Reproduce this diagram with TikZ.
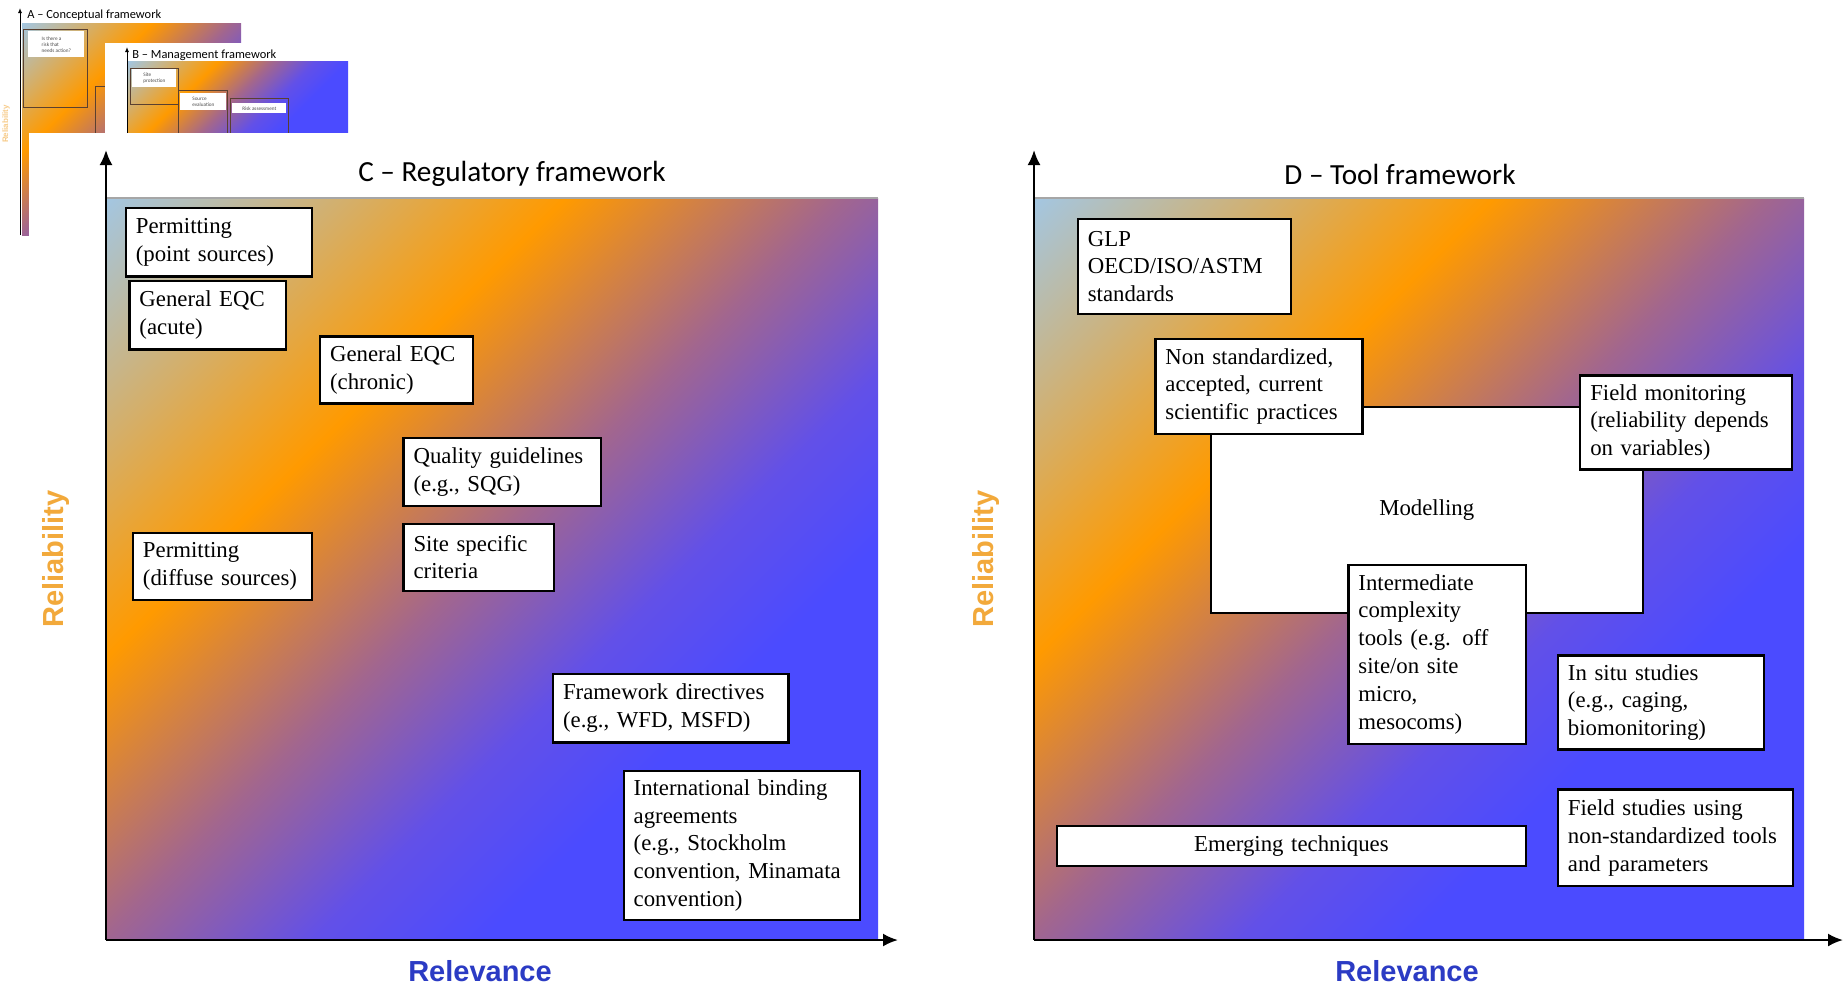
\documentclass[tikz,border=0pt]{standalone}
\usepackage{fontspec}
\setmainfont{Liberation Serif}
\newfontfamily\calib{Carlito}
\newfontfamily\arl{Liberation Sans}
\usetikzlibrary{arrows.meta}
\definecolor{gA}{HTML}{A4C6E0}
\definecolor{gB}{HTML}{FF9A00}
\definecolor{gC}{HTML}{A2668E}
\definecolor{gD}{HTML}{6250E8}
\definecolor{gE}{HTML}{4B4BFF}
\definecolor{relorange}{HTML}{F2A93B}
\definecolor{relblue}{HTML}{2B3BC4}
\definecolor{thumbedge}{HTML}{5A4030}
\pgfdeclarehorizontalshading{diagsh}{100bp}{color(0bp)=(gA); color(14.6bp)=(gA); color(36bp)=(gB); color(49bp)=(gC); color(59bp)=(gD); color(67bp)=(gE); color(100bp)=(gE)}
\tikzset{
  box/.style={draw=black, line width=1.15pt, fill=white, font=\fontsize{11.4}{13.9}\selectfont, align=left, inner xsep=5pt, inner ysep=0pt, anchor=north west},
  panel/.style={shading=diagsh, shading angle=-45},
  axisarrow/.style={line width=1.1pt, -{Latex[length=7.5pt,width=6.5pt]}},
  thinarrow/.style={line width=0.5pt, -{Latex[length=2.5pt,width=2pt]}},
  ptitle/.style={font=\calib\fontsize{14.6}{17}\selectfont},
  relo/.style={font=\arl\bfseries\fontsize{14.5}{17}\selectfont, text=relorange},
  relb/.style={font=\arl\bfseries\fontsize{14.5}{17}\selectfont, text=relblue},
  ttitle/.style={font=\calib\fontsize{6.2}{7}\selectfont, anchor=west, inner sep=0pt},
  tbox/.style={draw=thumbedge, line width=0.6pt, anchor=north west, inner sep=0pt},
  ttext/.style={fill=white, anchor=north west, inner sep=1pt, align=left, font=\calib\fontsize{2.6}{3}\selectfont, text=black!70},
  topline/.style={gray!70, line width=0.9pt},
}
\newcommand\pbox[7][]{%
  \pgfmathsetmacro\bw{(#5-#3)*0.5}%
  \pgfmathsetmacro\bh{(#6-#4)*0.5}%
  \pgfmathsetmacro\tw{\bw-10}%
  \node[box, minimum width=\bw pt, minimum height=\bh pt, text width=\tw pt, #1] (#2) at (#3,#4) {#7};}
\begin{document}
\begin{tikzpicture}[x=0.5pt, y=-0.5pt]
\useasboundingbox (0,0) rectangle (1845,986);
\fill[white] (0,0) rectangle (1845,986);

% ---------- thumbnail A ----------
\shade[panel] (22,23) rectangle (241,235);
\coordinate (a0) at (20,235);
\coordinate (ay) at (20,8);
\draw[thinarrow] (a0) -- (ay);
\node[ttitle] (atitle) at (27,15) {A – Conceptual framework};
\node[tbox, minimum width=32pt, minimum height=39pt] (abox) at (23,29) {};
\node[ttext, minimum width=28pt, minimum height=13pt] (atext) at (28,31) {Is there a\\risk that\\needs action?};
\node[tbox, minimum width=12pt, minimum height=30pt] (abox2) at (95,86) {};
\node[rotate=90, font=\arl\bfseries\fontsize{4}{4}\selectfont, text=relorange!60] (arel) at (6,124) {Reliability};

% ---------- thumbnail B ----------
\fill[white] (105,43) rectangle (370,140);
\shade[panel] (128,61) rectangle (348,140);
\coordinate (b0) at (127,140);
\coordinate (by) at (127,47);
\draw[thinarrow] (b0) -- (by);
\node[ttitle] (btitle) at (132,55) {B – Management framework};
\node[tbox, minimum width=24pt, minimum height=18pt] (bbox1) at (130,68) {};
\node[ttext, minimum width=22pt, minimum height=9pt] (btext1) at (132,69) {Site\\protection};
\node[tbox, minimum width=24.5pt, minimum height=25pt] (bbox2) at (178,90) {};
\node[ttext, minimum width=23pt, minimum height=8.5pt] (btext2) at (180,93) {Source\\evaluation};
\node[tbox, minimum width=29pt, minimum height=21pt] (bbox3) at (230,98) {};
\node[ttext, minimum width=27pt, minimum height=5pt] (btext3) at (232,103) {Risk assessment};

% ---------- white cover ----------
\fill[white] (29,133) rectangle (1845,986);

% ---------- panel C ----------
\shade[panel] (107,198) rectangle (878,939);
\draw[topline] (107,198) -- (878,198);
\coordinate (c0) at (106,940);
\coordinate (cy) at (106,150);
\coordinate (cx) at (898,940);
\draw[axisarrow] (c0) -- (cy);
\draw[axisarrow] (c0) -- (cx);
\node[ptitle] (ctitle) at (512,174) {C – Regulatory framework};
\node[relo, rotate=90] (crel) at (56.5,559) {Reliability};
\node[relb] (crelv) at (480,971) {Relevance};

\pbox{c1}{124.7}{207.1}{310.6}{275.3}{Permitting\\(point sources)}
\pbox{c2}{128.3}{280.1}{284.8}{348.3}{General EQC\\(acute)}
\pbox{c3}{318.9}{335.4}{471.9}{402.4}{General EQC\\(chronic)}
\pbox{c4}{402.4}{436.6}{600.1}{504.8}{Quality guidelines\\(e.g., SQG)}
\pbox{c5}{402.4}{522.5}{553.0}{589.5}{Site specific\\criteria}
\pbox{c6}{131.8}{531.9}{310.6}{598.9}{Permitting\\(diffuse sources)}
\pbox{c7}{551.9}{673.1}{787.2}{741.3}{Framework directives\\(e.g., WFD, MSFD)}
\pbox{c8}{622.5}{769.6}{859.0}{919.0}{International binding\\agreements\\(e.g., Stockholm\\convention, Minamata\\convention)}

% ---------- panel D ----------
\shade[panel] (1035,198) rectangle (1804,940);
\draw[topline] (1035,198) -- (1804,198);
\coordinate (d0) at (1034,940);
\coordinate (dy) at (1034,150);
\coordinate (dx) at (1843,940);
\draw[axisarrow] (d0) -- (dy);
\draw[axisarrow] (d0) -- (dx);
\node[ptitle] (dtitle) at (1400,174) {D – Tool framework};
\node[relo, rotate=90] (drel) at (986,559) {Reliability};
\node[relb] (drelv) at (1407,971) {Relevance};

\pbox{d1}{1076.7}{217.7}{1289.7}{313.0}{GLP\\OECD/ISO/ASTM\\standards}
\pbox[align=center]{dmodel}{1209.7}{406.0}{1641.5}{611.9}{Modelling}
\pbox{d2}{1154.3}{337.7}{1361.4}{433.0}{Non standardized,\\accepted, current\\scientific practices}
\pbox{d3}{1579.1}{374.2}{1790.9}{468.3}{Field monitoring\\(reliability depends\\on variables)}
\pbox{d4}{1347.3}{563.6}{1525.0}{742.5}{Intermediate\\complexity\\tools (e.g. off\\site/on site\\micro,\\mesocoms)}
\pbox{d5}{1556.8}{654.2}{1762.7}{748.4}{In situ studies\\(e.g., caging,\\biomonitoring)}
\pbox[align=center]{d6}{1055.5}{824.9}{1525.0}{864.9}{Emerging techniques}
\pbox{d7}{1556.8}{788.4}{1792.1}{884.9}{Field studies using\\non-standardized tools\\and parameters}
\end{tikzpicture}
\end{document}
